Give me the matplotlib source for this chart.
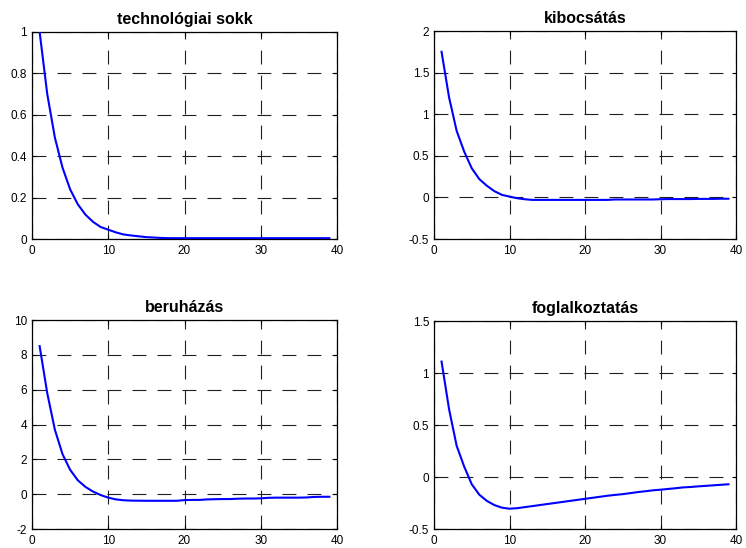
import matplotlib
matplotlib.use("Agg")
import matplotlib.pyplot as plt

plt.rcParams['font.family'] = ['Liberation Sans', 'DejaVu Sans']
plt.rcParams['lines.scale_dashes'] = False

periods = list(range(1, 40))

tech_shock = [1.0, 0.70, 0.49, 0.345, 0.24, 0.168, 0.118, 0.083, 0.058, 0.045,
              0.032, 0.022, 0.017, 0.013, 0.009, 0.007, 0.005, 0.004, 0.004, 0.004,
              0.004, 0.004, 0.004, 0.004, 0.004, 0.004, 0.004, 0.004, 0.004, 0.004,
              0.004, 0.004, 0.004, 0.004, 0.004, 0.004, 0.004, 0.004, 0.004]

output = [1.75, 1.20, 0.80, 0.55, 0.35, 0.22, 0.14, 0.075, 0.03, 0.01,
          -0.01, -0.022, -0.03, -0.03, -0.03, -0.03, -0.03, -0.03, -0.03, -0.03,
          -0.03, -0.03, -0.03, -0.025, -0.025, -0.025, -0.025, -0.025, -0.025, -0.022,
          -0.02, -0.02, -0.02, -0.02, -0.018, -0.018, -0.018, -0.016, -0.016]

investment = [8.5, 5.8, 3.7, 2.3, 1.4, 0.8, 0.42, 0.15, -0.05, -0.2,
              -0.3, -0.35, -0.37, -0.375, -0.38, -0.38, -0.38, -0.38, -0.38, -0.34,
              -0.33, -0.33, -0.3, -0.29, -0.28, -0.28, -0.26, -0.25, -0.25, -0.24,
              -0.21, -0.2, -0.2, -0.2, -0.2, -0.19, -0.16, -0.15, -0.15]

employment = [1.11, 0.65, 0.30, 0.10, -0.07, -0.17, -0.23, -0.27, -0.295, -0.305,
              -0.30, -0.29, -0.28, -0.27, -0.26, -0.25, -0.24, -0.23, -0.22, -0.21,
              -0.20, -0.19, -0.18, -0.172, -0.165, -0.155, -0.145, -0.137, -0.128, -0.122,
              -0.115, -0.108, -0.10, -0.096, -0.09, -0.085, -0.08, -0.075, -0.07]

titles = ["technológiai sokk", "kibocsátás", "beruházás", "foglalkoztatás"]
series = [tech_shock, output, investment, employment]
ylims = [(0, 1), (-0.5, 2), (-2, 10), (-0.5, 1.5)]
yticks = [[0, 0.2, 0.4, 0.6, 0.8, 1], [-0.5, 0, 0.5, 1, 1.5, 2],
          [-2, 0, 2, 4, 6, 8, 10], [-0.5, 0, 0.5, 1, 1.5]]
ytick_labels = [["0", "0.2", "0.4", "0.6", "0.8", "1"],
                ["-0.5", "0", "0.5", "1", "1.5", "2"],
                ["-2", "0", "2", "4", "6", "8", "10"],
                ["-0.5", "0", "0.5", "1", "1.5"]]
xticks = [0, 10, 20, 30, 40]

W, H = 746, 548
fig = plt.figure(figsize=(W / 100, H / 100), dpi=100)
boxes = [(32, 32, 337, 239), (434, 31, 736, 239), (32, 320, 337, 529), (434, 321, 736, 529)]

for i in range(4):
    x0, y0, x1, y1 = boxes[i]
    ax = fig.add_axes([x0 / W, 1 - y1 / H, (x1 - x0) / W, (y1 - y0) / H])
    ax.plot(periods, series[i], color='#0000ff', lw=1.5, zorder=3)
    ax.set_xlim(0, 40)
    ax.set_ylim(*ylims[i])
    ax.set_xticks(xticks)
    ax.set_xticklabels([str(t) for t in xticks])
    ax.set_yticks(yticks[i])
    ax.set_yticklabels(ytick_labels[i])
    ax.grid(True, color='#202020', linestyle=(0, (10, 8)), linewidth=0.8)
    ax.tick_params(direction='in', length=3, width=0.8, labelsize=8.5, pad=3.5,
                   top=True, right=True)
    ax.tick_params(axis='x', pad=4.5)
    for s in ax.spines.values():
        s.set_linewidth(0.9)
    ax.set_title(titles[i], fontsize=11.5, fontweight='bold', pad=6)

fig.savefig("out.png", dpi=100)
